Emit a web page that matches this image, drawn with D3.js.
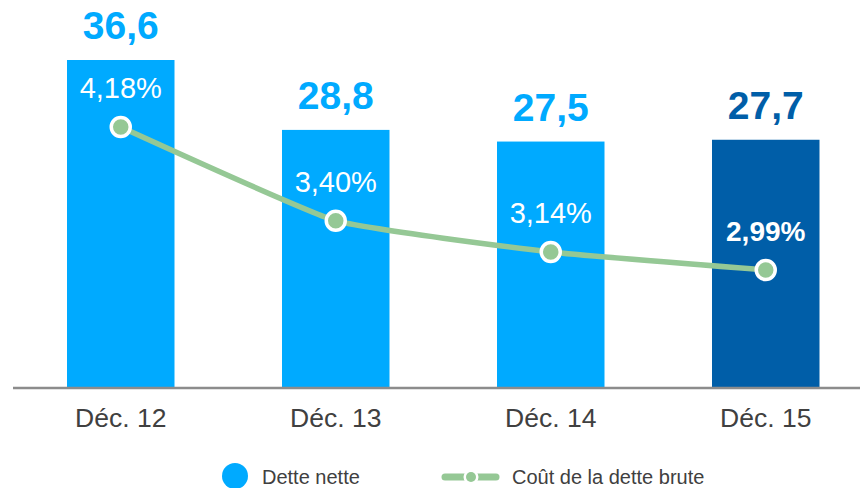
<!DOCTYPE html>
<html>
<head>
<meta charset="utf-8">
<script src="https://cdn.jsdelivr.net/npm/d3@7"></script>
<style>
  body { margin: 0; background: #fff; }
  svg { display: block; font-family: "Liberation Sans", Arial, sans-serif; }
</style>
</head>
<body>
<div id="chart"></div>
<script>
// data
let categories = ["Déc. 12", "Déc. 13", "Déc. 14", "Déc. 15"]
let detteNette = [36.6, 28.8, 27.5, 27.7]
let coutDette = [4.18, 3.40, 3.14, 2.99]
let legendLabels = ["Dette nette", "Coût de la dette brute"]

let fmt = (v, d) => v.toFixed(d).replace(".", ",")

function drawChart(){
    let W = 860, H = 488
    let baseY = 388

    let svg = d3.select("#chart").append("svg")
        .attr("width", W)
        .attr("height", H)

    let scX = d3.scaleBand().domain(categories)
        .range([13.25, 873.25])
        .paddingInner(0.5)
        .paddingOuter(0.25)
    let scY = d3.scaleLinear().domain([0, 36.6]).range([baseY, 60])
    let scL = d3.scaleLinear().domain([2.99, 4.18]).range([270, 127])

    let colorBar = (d, i) => i == categories.length - 1 ? "#005ea8" : "#00aaff"
    let last = i => i == coutDette.length - 1

    // bars
    svg.append("g").selectAll("rect")
        .data(detteNette)
        .enter()
        .append("rect")
        .attr("x", (d, i) => scX(categories[i]))
        .attr("y", d => scY(d))
        .attr("width", scX.bandwidth())
        .attr("height", d => baseY - scY(d))
        .attr("fill", colorBar)

    // value labels above bars
    svg.append("g").selectAll("text")
        .data(detteNette)
        .enter()
        .append("text")
        .attr("x", (d, i) => scX(categories[i]) + scX.bandwidth() / 2)
        .attr("y", d => scY(d) - 21)
        .attr("text-anchor", "middle")
        .attr("font-size", "39px")
        .attr("font-weight", "bold")
        .attr("fill", colorBar)
        .text(d => fmt(d, 1))

    // axis baseline
    let axis = d3.axisBottom(scX).tickSize(0).tickPadding(20)
    let gAxis = svg.append("g")
        .attr("transform", `translate(0, ${baseY})`)
        .call(axis)
    gAxis.select(".domain")
        .attr("d", `M13,0H860`)
        .attr("stroke", "#8c8c8c")
        .attr("stroke-width", 2.5)
    gAxis.selectAll("text")
        .attr("font-size", "26.5px")
        .attr("font-family", "Liberation Sans, Arial, sans-serif")
        .attr("fill", "#404040")

    // cost line
    let line = d3.line()
        .x((d, i) => scX(categories[i]) + scX.bandwidth() / 2)
        .y(d => scL(d))
        .curve(d3.curveCardinal.tension(0.6))
    svg.append("path")
        .datum(coutDette)
        .attr("d", line)
        .attr("fill", "none")
        .attr("stroke", "#95c895")
        .attr("stroke-width", 5.5)

    svg.append("g").selectAll("circle")
        .data(coutDette)
        .enter()
        .append("circle")
        .attr("cx", (d, i) => scX(categories[i]) + scX.bandwidth() / 2)
        .attr("cy", d => scL(d))
        .attr("r", 9.5)
        .attr("fill", "#95c895")
        .attr("stroke", "#fff")
        .attr("stroke-width", 3.5)

    svg.append("g").selectAll("text")
        .data(coutDette)
        .enter()
        .append("text")
        .attr("x", (d, i) => scX(categories[i]) + scX.bandwidth() / 2)
        .attr("y", d => scL(d) - 29)
        .attr("text-anchor", "middle")
        .attr("font-size", (d, i) => last(i) ? "28px" : "29px")
        .attr("font-weight", (d, i) => last(i) ? "bold" : "normal")
        .attr("fill", "#fff")
        .text(d => fmt(d, 2) + "%")

    // legend
    let lg = svg.append("g")
    lg.append("circle")
        .attr("cx", 235).attr("cy", 476).attr("r", 13)
        .attr("fill", "#00aaff")
    lg.append("text")
        .attr("x", 262).attr("y", 484)
        .attr("font-size", "20px")
        .attr("fill", "#404040")
        .text(legendLabels[0])

    lg.append("line")
        .attr("x1", 445).attr("x2", 496)
        .attr("y1", 477).attr("y2", 477)
        .attr("stroke", "#95c895")
        .attr("stroke-width", 7)
        .attr("stroke-linecap", "round")
    lg.append("circle")
        .attr("cx", 471).attr("cy", 477).attr("r", 7.5)
        .attr("fill", "#fff")
    lg.append("circle")
        .attr("cx", 471).attr("cy", 477).attr("r", 5)
        .attr("fill", "#95c895")
    lg.append("text")
        .attr("x", 512).attr("y", 484)
        .attr("font-size", "20px")
        .attr("fill", "#404040")
        .text(legendLabels[1])
}

drawChart()
</script>
</body>
</html>
